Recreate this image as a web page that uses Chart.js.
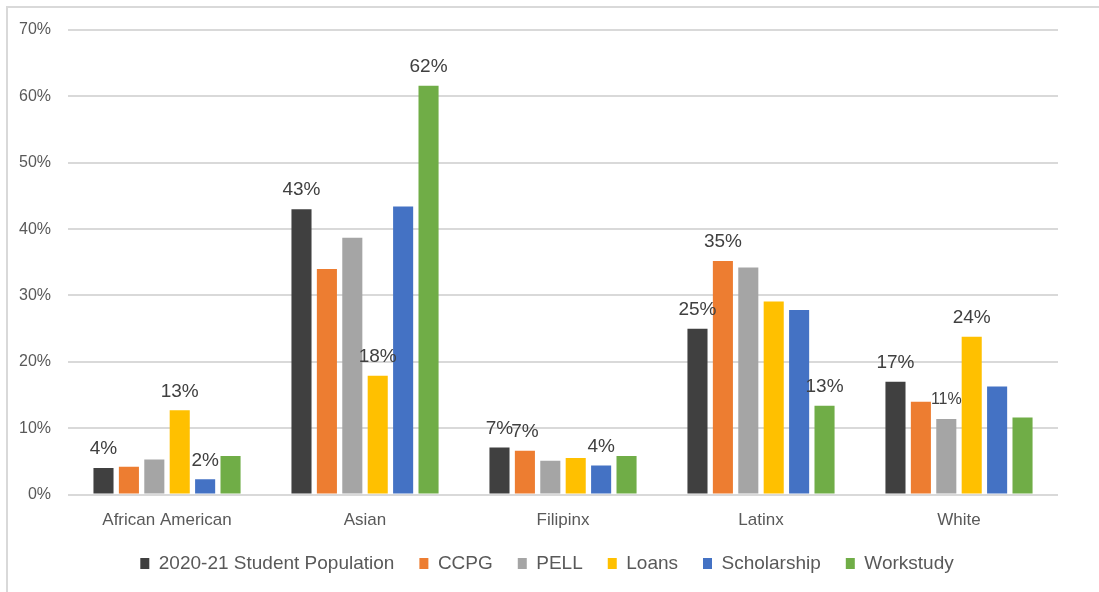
<!DOCTYPE html>
<html>
<head>
<meta charset="utf-8">
<script src="https://cdn.jsdelivr.net/npm/chart.js@4.4.0/dist/chart.umd.min.js"></script>
<style>
  html, body { margin: 0; padding: 0; background: #fff; overflow: hidden; }
  #frame { position: absolute; left: 6px; top: 6px; width: 1200px; height: 700px;
           border-left: 2px solid #d9d9d9; border-top: 2px solid #d9d9d9; }
  #wrap { position: absolute; left: 0; top: 0; width: 1099px; height: 592px; }
</style>
</head>
<body>
<div id="frame"></div>
<div id="wrap"><canvas id="ethnicityChart"></canvas></div>
<script>
// Data (percent)
const categories = ['African American', 'Asian', 'Filipinx', 'Latinx', 'White'];
const population = [4.0, 43.0, 7.1, 25.0, 17.0];
const ccpg = [4.2, 34.0, 6.6, 35.2, 14.0];
const pell = [5.3, 38.7, 5.1, 34.2, 11.4];
const loans = [12.7, 17.9, 5.5, 29.1, 23.8];
const scholarship = [2.3, 43.4, 4.4, 27.8, 16.3];
const workstudy = [5.8, 61.6, 5.8, 13.4, 11.6];
const yTicks = [0, 10, 20, 30, 40, 50, 60, 70];

// which bars carry a value label in the original
const populationLabeled = [true, true, true, true, true];
const ccpgLabeled = [false, false, true, true, false];
const pellLabeled = [false, false, false, false, true];
const loansLabeled = [true, true, false, false, true];
const scholarshipLabeled = [true, false, true, false, false];
const workstudyLabeled = [false, true, false, true, false];

const labeled = [populationLabeled, ccpgLabeled, pellLabeled, loansLabeled, scholarshipLabeled, workstudyLabeled];

// value labels above bars
const barLabels = {
    id: 'barLabels',
    afterDatasetsDraw(chart) {
        const ctx = chart.ctx;
        ctx.save();
        ctx.fillStyle = '#404040';
        ctx.textAlign = 'center';
        ctx.textBaseline = 'middle';
        chart.data.datasets.forEach((ds, i) => {
            const meta = chart.getDatasetMeta(i);
            meta.data.forEach((bar, j) => {
                if (!labeled[i][j]) return;
                const small = i === 2; // the PELL label is drawn smaller
                ctx.font = (small ? '16px' : '19px') + ' "Liberation Sans", Arial, sans-serif';
                ctx.fillText(Math.round(ds.data[j]) + '%', bar.x, bar.y - 19);
            });
        });
        ctx.restore();
    }
};

// nudge the legend a bit to the right, like the original
const legendShift = {
    id: 'legendShift',
    afterLayout(chart) {
        if (chart.legend) {
            chart.legend.left += 17;
            chart.legend.right += 17;
        }
    }
};

const ctx = document.getElementById('ethnicityChart').getContext('2d');

new Chart(ctx, {
    type: 'bar',
    data: {
        labels: categories,
        datasets: [
            { label: '2020-21 Student Population', data: population, backgroundColor: '#404040' },
            { label: 'CCPG', data: ccpg, backgroundColor: '#ED7D31' },
            { label: 'PELL', data: pell, backgroundColor: '#A5A5A5' },
            { label: 'Loans', data: loans, backgroundColor: '#FFC000' },
            { label: 'Scholarship', data: scholarship, backgroundColor: '#4472C4' },
            { label: 'Workstudy', data: workstudy, backgroundColor: '#70AD47' }
        ]
    },
    options: {
        responsive: true,
        maintainAspectRatio: false,
        animation: false,
        datasets: {
            bar: {
                categoryPercentage: 0.77,
                barPercentage: 0.79
            }
        },
        layout: {
            padding: { left: 2, right: 41, top: 30, bottom: 9 }
        },
        scales: {
            x: {
                grid: { display: false, drawTicks: false },
                border: { display: false },
                afterFit: (scale) => { scale.height -= 18; },
                ticks: {
                    color: '#595959',
                    padding: 16,
                    font: { family: '"Liberation Sans", Arial, sans-serif', size: 17 }
                }
            },
            y: {
                min: 0,
                max: 70,
                afterBuildTicks: (scale) => {
                    scale.ticks = yTicks.map(v => ({ value: v }));
                },
                grid: { color: '#d9d9d9', lineWidth: 2, drawTicks: false },
                border: { display: false },
                ticks: {
                    color: '#595959',
                    padding: 17,
                    font: { family: '"Liberation Sans", Arial, sans-serif', size: 16 },
                    callback: (v) => v + '%'
                }
            }
        },
        plugins: {
            legend: {
                position: 'bottom',
                labels: {
                    boxWidth: 9,
                    boxHeight: 11,
                    padding: 25,
                    color: '#595959',
                    font: { family: '"Liberation Sans", Arial, sans-serif', size: 19 }
                }
            },
            tooltip: { enabled: false }
        }
    },
    plugins: [barLabels, legendShift]
});
</script>
</body>
</html>
